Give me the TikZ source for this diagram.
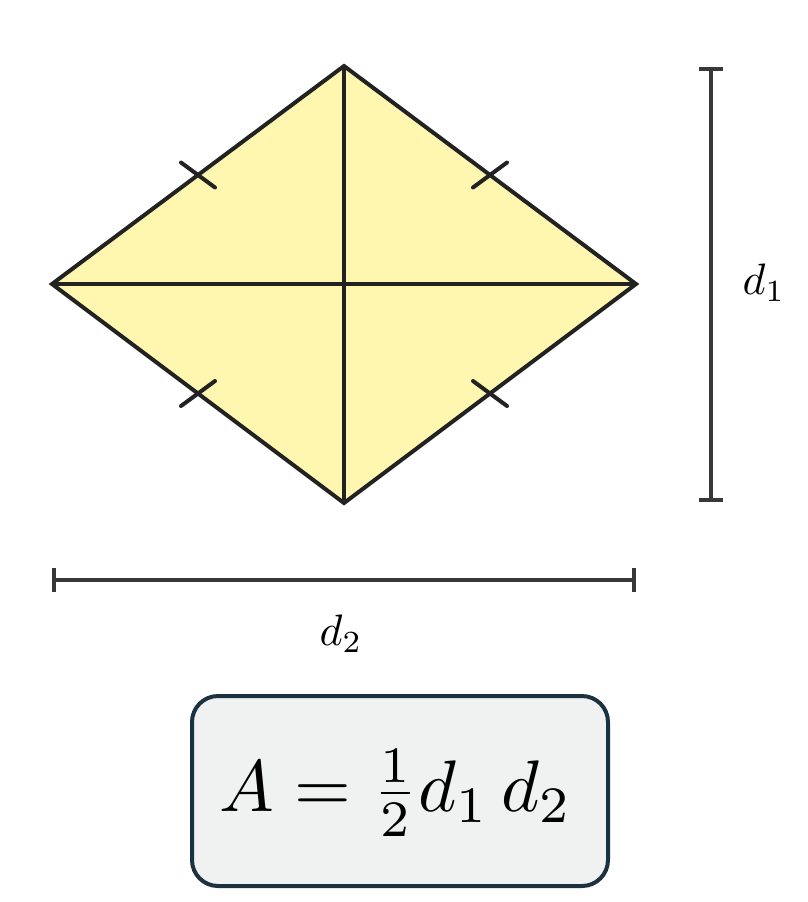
\documentclass[tikz,border=0pt]{standalone}
\usepackage{amsmath,amssymb}
\usepackage[dvipsnames]{xcolor}
\definecolor{kitefill}{RGB}{255,246,176}
\definecolor{kiteline}{RGB}{34,34,34}
\definecolor{boxline}{RGB}{28,50,64}
\definecolor{boxfill}{RGB}{240,241,241}
\usepackage{tikz}
\usetikzlibrary{calc,arrows.meta}
\tikzstyle{edge}=[draw=kiteline,line width=4pt,line join=miter]
\tikzstyle{tick}=[draw=kiteline,line width=4pt,line cap=round]
\tikzstyle{dimline}=[draw=kiteline!90,line width=4pt,{Bar[width=24pt,line width=4pt]}-{Bar[width=24pt,line width=4pt]}]
\tikzstyle{dimlabel}=[scale=4.4]
\tikzstyle{formbox}=[draw=boxline,fill=boxfill,line width=4pt,rounded corners=26pt,minimum width=416pt,minimum height=190pt]

\begin{document}
\begin{tikzpicture}[x=1pt,y=-1pt]
        \useasboundingbox (0,0) rectangle (808,902);

        % vertices of the rhombus
        \coordinate (tp) at (344,66);
        \coordinate (lft) at (52,284);
        \coordinate (rgt) at (636,284);
        \coordinate (btm) at (344,503);

        \fill[kitefill] (tp) -- (rgt) -- (btm) -- (lft) -- cycle;
        \draw[edge] (tp) -- (btm);
        \draw[edge] (lft) -- (rgt);
        \draw[edge] (tp) -- (rgt) -- (btm) -- (lft) -- cycle;

        % equal side marks
        \foreach \a/\b/\s in {lft/tp/1,tp/rgt/-1,rgt/btm/1,btm/lft/-1}{
          \draw[tick] ($(\a)!0.5!(\b)+(-17,-12.5*\s)$) -- ($(\a)!0.5!(\b)+(17,12.5*\s)$);
        }

        % dimensions
        \coordinate (v1) at (711,67);
        \coordinate (v2) at (711,502);
        \draw[dimline] (v1) -- (v2);
        \node[dimlabel] (d1) at (764,283) {$d_1$};

        \coordinate (h1) at (52,580);
        \coordinate (h2) at (636,580);
        \draw[dimline] (h1) -- (h2);
        \node[dimlabel] (d2) at (341,634) {$d_2$};

        \node[formbox] (area) at (400,791) {};
        \node[scale=7.3] (formula) at (396,793) {$A=\frac{1}{2}d_1\,d_2$};
      \end{tikzpicture}
\end{document}
